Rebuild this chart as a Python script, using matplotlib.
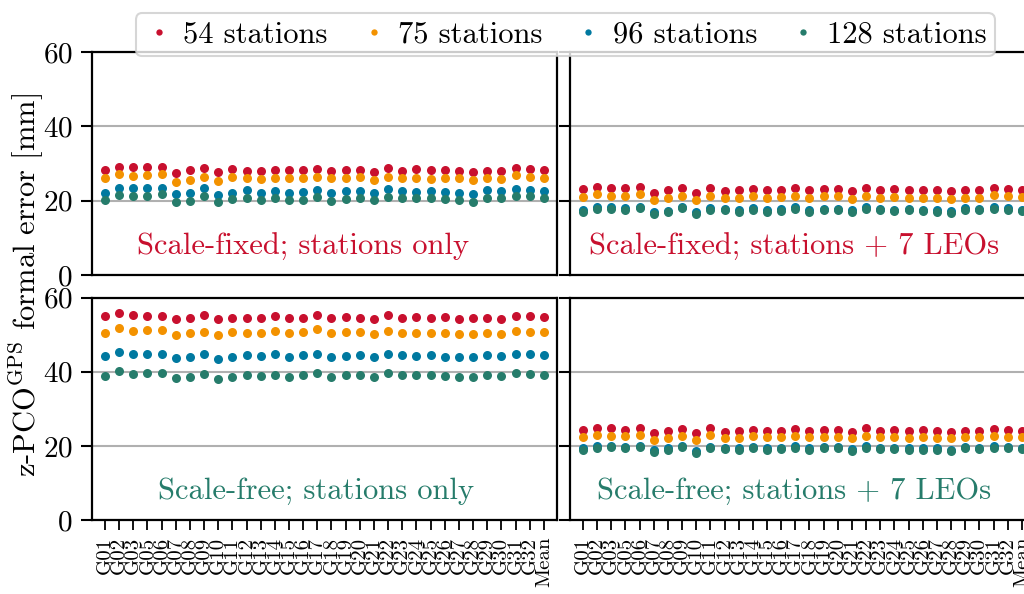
import numpy as np
import matplotlib
matplotlib.use('Agg')
import matplotlib.pyplot as plt

plt.rcParams['font.family'] = 'cmr10'
plt.rcParams['mathtext.fontset'] = 'cm'
plt.rcParams['axes.unicode_minus'] = False
plt.rcParams['axes.formatter.use_mathtext'] = True

# satelity (G04 chýba) + priemer
sats = ['G01', 'G02', 'G03', 'G05', 'G06', 'G07', 'G08', 'G09', 'G10',
        'G11', 'G12', 'G13', 'G14', 'G15', 'G16', 'G17', 'G18', 'G19', 'G20',
        'G21', 'G22', 'G23', 'G24', 'G25', 'G26', 'G27', 'G28', 'G29', 'G30',
        'G31', 'G32', 'Mean']
series_names = ['54 stations', '75 stations', '96 stations', '128 stations']
series_colors = ['#c8102e', '#f39200', '#0079a0', '#267c6b']

# Scale-fixed; stations only
fixed_sta_54 = [28.3, 29.0, 29.0, 29.0, 29.2, 27.4, 28.2, 28.9, 27.6, 28.5, 28.1, 28.0, 28.3, 28.3, 28.2, 28.5,
                28.1, 28.2, 28.2, 27.7, 28.7, 28.0, 28.6, 28.2, 28.3, 28.0, 27.8, 28.0, 28.0, 28.7, 28.5, 28.2]
fixed_sta_75 = [26.1, 27.1, 26.7, 26.9, 27.2, 25.0, 25.6, 26.5, 25.2, 26.4, 26.0, 25.8, 26.0, 26.0, 26.0, 26.5,
                26.0, 26.2, 26.3, 25.6, 26.5, 26.0, 26.2, 25.8, 26.0, 26.0, 25.5, 26.0, 25.8, 26.9, 26.5, 26.2]
fixed_sta_96 = [22.2, 23.3, 23.3, 23.3, 23.4, 21.7, 22.1, 23.4, 21.5, 22.2, 22.8, 22.2, 22.6, 22.2, 22.4, 23.0,
                22.1, 22.6, 22.6, 22.2, 23.1, 22.6, 22.4, 22.6, 22.4, 22.2, 21.7, 23.0, 22.6, 23.1, 23.0, 22.6]
fixed_sta_128 = [20.3, 21.5, 21.3, 21.3, 21.7, 19.7, 19.8, 21.3, 19.6, 20.4, 20.8, 20.3, 20.6, 20.1, 20.3, 20.9,
                 19.9, 20.4, 20.6, 20.3, 21.1, 20.6, 20.6, 20.6, 20.4, 20.3, 19.7, 20.8, 20.6, 21.3, 21.2, 20.6]

# Scale-fixed; stations + 7 LEOs
fixed_leo_54 = [23.1, 23.7, 23.5, 23.3, 23.7, 22.2, 23.0, 23.3, 22.1, 23.5, 22.6, 22.8, 23.1, 23.0, 23.0, 23.3,
                22.8, 23.1, 23.1, 22.6, 23.5, 22.8, 23.1, 22.8, 23.0, 22.8, 22.6, 22.8, 22.8, 23.3, 23.1, 23.0]
fixed_leo_75 = [21.0, 21.7, 21.3, 21.3, 21.7, 20.1, 20.6, 21.3, 20.1, 21.3, 20.6, 20.6, 21.2, 20.8, 21.0, 21.2,
                20.8, 21.2, 21.2, 20.4, 21.3, 20.8, 21.0, 20.6, 20.8, 20.8, 20.4, 20.8, 20.8, 21.5, 21.2, 21.0]
fixed_leo_96 = [17.4, 18.2, 18.2, 17.9, 18.3, 16.9, 17.3, 18.3, 16.9, 18.0, 17.8, 17.4, 17.9, 17.6, 17.8, 18.2,
                17.4, 17.8, 17.8, 17.4, 18.2, 17.8, 17.6, 17.8, 17.6, 17.4, 17.1, 18.0, 17.8, 18.2, 18.0, 17.6]
fixed_leo_128 = [17.0, 17.8, 17.8, 17.6, 17.9, 16.5, 16.9, 17.9, 16.5, 17.6, 17.4, 17.0, 17.6, 17.0, 17.2, 17.8,
                 17.0, 17.4, 17.4, 17.0, 17.8, 17.4, 17.2, 17.4, 17.2, 17.0, 16.7, 17.6, 17.4, 17.8, 17.6, 17.2]

# Scale-free; stations only
free_sta_54 = [55.0, 55.7, 55.3, 55.1, 55.1, 54.1, 54.6, 55.3, 54.1, 54.6, 54.4, 54.4, 55.1, 54.6, 54.6, 55.3,
               54.6, 54.8, 54.6, 54.2, 55.3, 54.6, 54.8, 54.6, 54.8, 54.2, 54.4, 54.6, 54.2, 55.0, 55.1, 54.8]
free_sta_75 = [50.5, 51.7, 50.9, 51.2, 51.2, 49.8, 50.3, 50.7, 49.8, 50.7, 50.5, 50.5, 51.0, 50.5, 50.7, 51.4,
               50.3, 50.7, 50.8, 50.1, 51.0, 50.5, 50.5, 50.3, 50.5, 50.1, 50.1, 50.5, 50.1, 51.0, 50.8, 50.7]
free_sta_96 = [44.2, 45.3, 44.9, 44.7, 44.7, 43.7, 43.9, 44.9, 43.5, 43.9, 44.4, 44.2, 44.7, 44.0, 44.4, 44.9,
               43.9, 44.2, 44.4, 43.9, 44.9, 44.4, 44.2, 44.4, 44.0, 43.9, 43.9, 44.6, 44.2, 44.9, 44.7, 44.4]
free_sta_128 = [38.8, 40.1, 39.4, 39.6, 39.7, 38.3, 38.5, 39.4, 38.1, 38.7, 39.0, 38.8, 39.2, 38.7, 39.0, 39.6,
                38.7, 39.0, 39.2, 38.7, 39.6, 39.0, 39.0, 39.2, 38.8, 38.7, 38.7, 39.0, 38.8, 39.6, 39.4, 39.0]

# Scale-free; stations + 7 LEOs
free_leo_54 = [24.3, 24.7, 24.7, 24.3, 24.7, 23.4, 24.1, 24.5, 23.4, 24.7, 23.8, 23.9, 24.3, 24.1, 24.1, 24.5,
               24.1, 24.3, 24.3, 23.8, 24.7, 23.9, 24.3, 24.1, 24.3, 24.1, 23.8, 23.9, 24.1, 24.5, 24.3, 24.1]
free_leo_75 = [22.5, 23.0, 22.7, 22.7, 23.0, 21.6, 22.2, 22.7, 21.6, 22.9, 22.2, 22.2, 22.7, 22.3, 22.3, 22.7,
               22.3, 22.5, 22.5, 22.0, 22.7, 22.3, 22.3, 22.2, 22.3, 22.2, 22.0, 22.3, 22.3, 22.7, 22.5, 22.3]
free_leo_96 = [19.3, 19.9, 20.0, 19.7, 20.0, 18.8, 19.3, 20.0, 18.6, 19.7, 19.5, 19.3, 19.7, 19.3, 19.5, 19.9,
               19.3, 19.7, 19.7, 19.1, 19.9, 19.5, 19.5, 19.3, 19.3, 19.3, 19.0, 19.7, 19.5, 19.9, 19.7, 19.5]
free_leo_128 = [18.9, 19.5, 19.6, 19.3, 19.6, 18.4, 18.9, 19.6, 18.2, 19.3, 19.1, 18.9, 19.3, 18.9, 19.1, 19.5,
                18.9, 19.3, 19.3, 18.7, 19.5, 19.1, 19.1, 18.9, 18.9, 18.9, 18.6, 19.3, 19.1, 19.5, 19.3, 19.1]

panels = [
    ('Scale-fixed; stations only', '#c8102e', [fixed_sta_54, fixed_sta_75, fixed_sta_96, fixed_sta_128], 14.0),
    ('Scale-fixed; stations + 7 LEOs', '#c8102e', [fixed_leo_54, fixed_leo_75, fixed_leo_96, fixed_leo_128], 14.9),
    ('Scale-free; stations only', '#267c6b', [free_sta_54, free_sta_75, free_sta_96, free_sta_128], 14.9),
    ('Scale-free; stations + 7 LEOs', '#267c6b', [free_leo_54, free_leo_75, free_leo_96, free_leo_128], 14.9),
]

fig = plt.figure(figsize=(10.24, 5.94), dpi=100)
w = 0.454
rects = [(0.0898, 0.537, w, 0.3754), (0.5566, 0.537, w, 0.3754),
         (0.0898, 0.1246, w, 0.3745), (0.5566, 0.1246, w, 0.3745)]

x = np.arange(len(sats))
handles = []
for i, (rect, (title, tcol, data, tx)) in enumerate(zip(rects, panels)):
    ax = fig.add_axes(rect)
    for vals, name, col in zip(data, series_names, series_colors):
        h, = ax.plot(x, vals, 'o', color=col, ms=6.5, mew=0, label=name, zorder=3)
        if i == 0:
            handles.append(h)
    ax.set_ylim(0, 60)
    ax.set_xlim(-0.92, len(sats) - 1 + 0.92)
    ax.set_yticks([0, 20, 40, 60])
    ax.grid(True, axis='y', color='#b0b0b0', linewidth=1.5, zorder=1)
    for s in ax.spines.values():
        s.set_linewidth(1.6)
    ax.tick_params(axis='y', length=8, width=1.5, pad=6, labelsize=21)
    ax.set_xticks(x)
    if i >= 2:
        ax.set_xticklabels(sats, rotation=90, fontsize=15)
        ax.tick_params(axis='x', length=7, width=1.3, pad=5)
    else:
        ax.tick_params(axis='x', length=0, labelbottom=False)
    if i % 2 == 1:
        ax.tick_params(axis='y', labelleft=False)
    ax.text(tx, 7.7, title, color=tcol, fontsize=22, ha='center', va='center')

fig.text(0.025, 0.52, r'z-PCO$^{\mathrm{GPS}}$ formal error [mm]', rotation=90,
         ha='center', va='center', fontsize=22)

leg = fig.legend(handles=handles, loc='upper center', bbox_to_anchor=(0.552, 1.003), ncol=4,
                 fontsize=22, markerscale=0.7, handletextpad=0.3, columnspacing=1.0,
                 handlelength=1.0, borderpad=0.25, frameon=True, fancybox=True)
leg.get_frame().set_edgecolor('#cccccc')
leg.get_frame().set_linewidth(1.5)

plt.savefig('out.png', dpi=100)
